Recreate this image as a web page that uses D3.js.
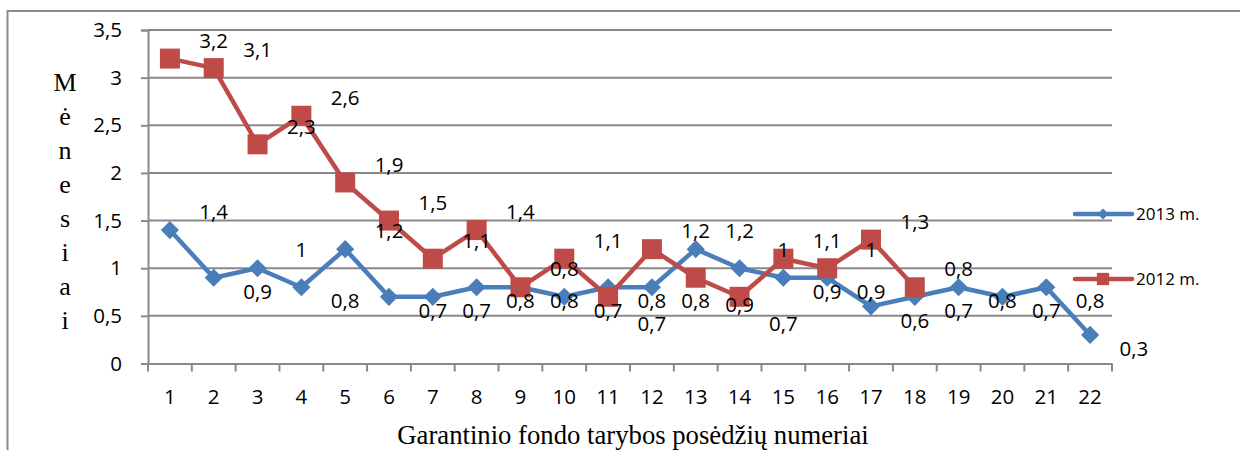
<!DOCTYPE html>
<html>
<head>
<meta charset="utf-8">
<script src="https://cdn.jsdelivr.net/npm/d3@7"></script>
<style>
  body { margin: 0; background: #fff; }
  svg text { fill: #000; }
</style>
</head>
<body>
<div id="vis"></div>
<script>

var categories = d3.range(1, 23).map(String);

var series2013 = [1.4, 0.9, 1, 0.8, 1.2, 0.7, 0.7, 0.8, 0.8, 0.7, 0.8,
  0.8, 1.2, 1, 0.9, 0.9, 0.6, 0.7, 0.8, 0.7, 0.8, 0.3];

var series2012 = [3.2, 3.1, 2.3, 2.6, 1.9, 1.5, 1.1, 1.4, 0.8, 1.1, 0.7,
  1.2, 0.9, 0.7, 1.1, 1, 1.3, 0.8];

var yTicks = [0, 0.5, 1, 1.5, 2, 2.5, 3, 3.5];

var seriesNames = ['2013 m.', '2012 m.'];

var width = 1240;
var height = 450;

var plot = { left: 148, right: 1112, top: 30, bottom: 363.5 };

var blue = '#4a7ebb';
var red = '#be4b48';
var gridColor = '#898989';
var sans = '"Open Sans", sans-serif';
var serif = '"Liberation Serif", serif';

var svg = d3.select('#vis')
  .append('svg')
  .attr('width', width)
  .attr('height', height);

// outer frame (runs off the right and bottom edge)
svg.append('rect')
  .attr('x', 7.5)
  .attr('y', 11)
  .attr('width', width + 10)
  .attr('height', height + 10)
  .attr('fill', 'none')
  .attr('stroke', '#8c8c8c')
  .attr('stroke-width', 2);

var x = d3.scaleBand()
  .domain(categories)
  .range([plot.left, plot.right]);

var y = d3.scaleLinear()
  .domain([0, 3.5])
  .range([plot.bottom, plot.top]);

function cx(i) { return x(categories[i]) + x.bandwidth() / 2; }
function fmt(d) { return String(d).replace('.', ','); }

// gridlines
svg.append('g')
  .selectAll('line')
  .data(yTicks.filter(function (d) { return d > 0; }))
  .enter().append('line')
  .attr('x1', plot.left)
  .attr('x2', plot.right)
  .attr('y1', function (d) { return y(d); })
  .attr('y2', function (d) { return y(d); })
  .attr('stroke', gridColor)
  .attr('stroke-width', 2);

// y axis
var yAxis = svg.append('g')
  .attr('transform', 'translate(' + plot.left + ',0)')
  .call(d3.axisLeft(y)
    .tickValues(yTicks)
    .tickSize(7)
    .tickPadding(19)
    .tickFormat(fmt));

// x axis
var xAxis = svg.append('g')
  .attr('transform', 'translate(0,' + plot.bottom + ')')
  .call(d3.axisBottom(x).tickSize(0).tickPadding(26));

[yAxis, xAxis].forEach(function (g) {
  g.select('.domain').attr('stroke', gridColor).attr('stroke-width', 2);
  g.selectAll('.tick line').attr('stroke', gridColor).attr('stroke-width', 2);
  g.selectAll('text')
    .attr('font-family', sans)
    .attr('font-size', 20.5)
    .attr('fill', '#000');
});

// x tick marks sit on category boundaries
svg.append('g')
  .selectAll('line')
  .data(d3.range(categories.length + 1))
  .enter().append('line')
  .attr('x1', function (i) { return plot.left + i * x.step(); })
  .attr('x2', function (i) { return plot.left + i * x.step(); })
  .attr('y1', plot.bottom)
  .attr('y2', plot.bottom + 8)
  .attr('stroke', gridColor)
  .attr('stroke-width', 2);

var line = d3.line()
  .x(function (d, i) { return cx(i); })
  .y(function (d) { return y(d); });

function drawSeries(values, color, diamond, size) {
  svg.append('path')
    .datum(values)
    .attr('d', line)
    .attr('fill', 'none')
    .attr('stroke', color)
    .attr('stroke-width', 4.5)
    .attr('stroke-linejoin', 'round');

  svg.append('g')
    .selectAll('path')
    .data(values)
    .enter().append('path')
    .attr('d', d3.symbol().type(d3.symbolSquare).size(size))
    .attr('transform', function (d, i) {
      return 'translate(' + cx(i) + ',' + y(d) + ')' + (diamond ? ' rotate(45)' : '');
    })
    .attr('fill', color);
}

drawSeries(series2013, blue, true, 165);
drawSeries(series2012, red, false, 400);

// data labels sit one category to the right of their point
// 2013: above when >= 1, 2012: below only when under the 2013 value
function drawLabels(values, isAbove, below) {
  svg.append('g')
    .selectAll('text')
    .data(values)
    .enter().append('text')
    .attr('x', function (d, i) { return cx(i) + x.step(); })
    .attr('y', function (d, i) { return y(d) + (isAbove(d, i) ? -18 : below); })
    .attr('dy', '0.35em')
    .attr('text-anchor', 'middle')
    .attr('font-family', sans)
    .attr('font-size', 20.5)
    .text(fmt);
}

drawLabels(series2013, function (d) { return d >= 1; }, 14);
drawLabels(series2012, function (d, i) { return !(d < series2013[i]); }, 27);

// legend
var legend = svg.append('g')
  .selectAll('g')
  .data(seriesNames)
  .enter().append('g')
  .attr('transform', function (d, i) { return 'translate(1075,' + (214 + i * 65) + ')'; });

legend.append('line')
  .attr('x1', 0).attr('x2', 57)
  .attr('stroke', function (d, i) { return i === 0 ? blue : red; })
  .attr('stroke-width', 4.5)
  .attr('stroke-linecap', 'round');

legend.append('path')
  .attr('d', function (d, i) { return d3.symbol().type(d3.symbolSquare).size(i === 0 ? 60 : 150)(); })
  .attr('transform', function (d, i) { return 'translate(28,0)' + (i === 0 ? ' rotate(45)' : ''); })
  .attr('fill', function (d, i) { return i === 0 ? blue : red; });

legend.append('text')
  .attr('x', 61)
  .attr('dy', '0.35em')
  .attr('font-family', sans)
  .attr('font-size', 17)
  .text(function (d) { return d; });

// axis titles
svg.append('text')
  .attr('x', 633)
  .attr('y', 444)
  .attr('text-anchor', 'middle')
  .attr('font-family', serif)
  .attr('font-size', 26.7)
  .text('Garantinio fondo tarybos posėdžių numeriai');

svg.append('g')
  .selectAll('text')
  .data('Mėnesiai'.split(''))
  .enter().append('text')
  .attr('x', 65)
  .attr('y', function (d, i) { return 82 + i * 34; })
  .attr('dy', '0.35em')
  .attr('text-anchor', 'middle')
  .attr('font-family', serif)
  .attr('font-size', 26)
  .text(function (d) { return d; });

</script>
</body>
</html>
